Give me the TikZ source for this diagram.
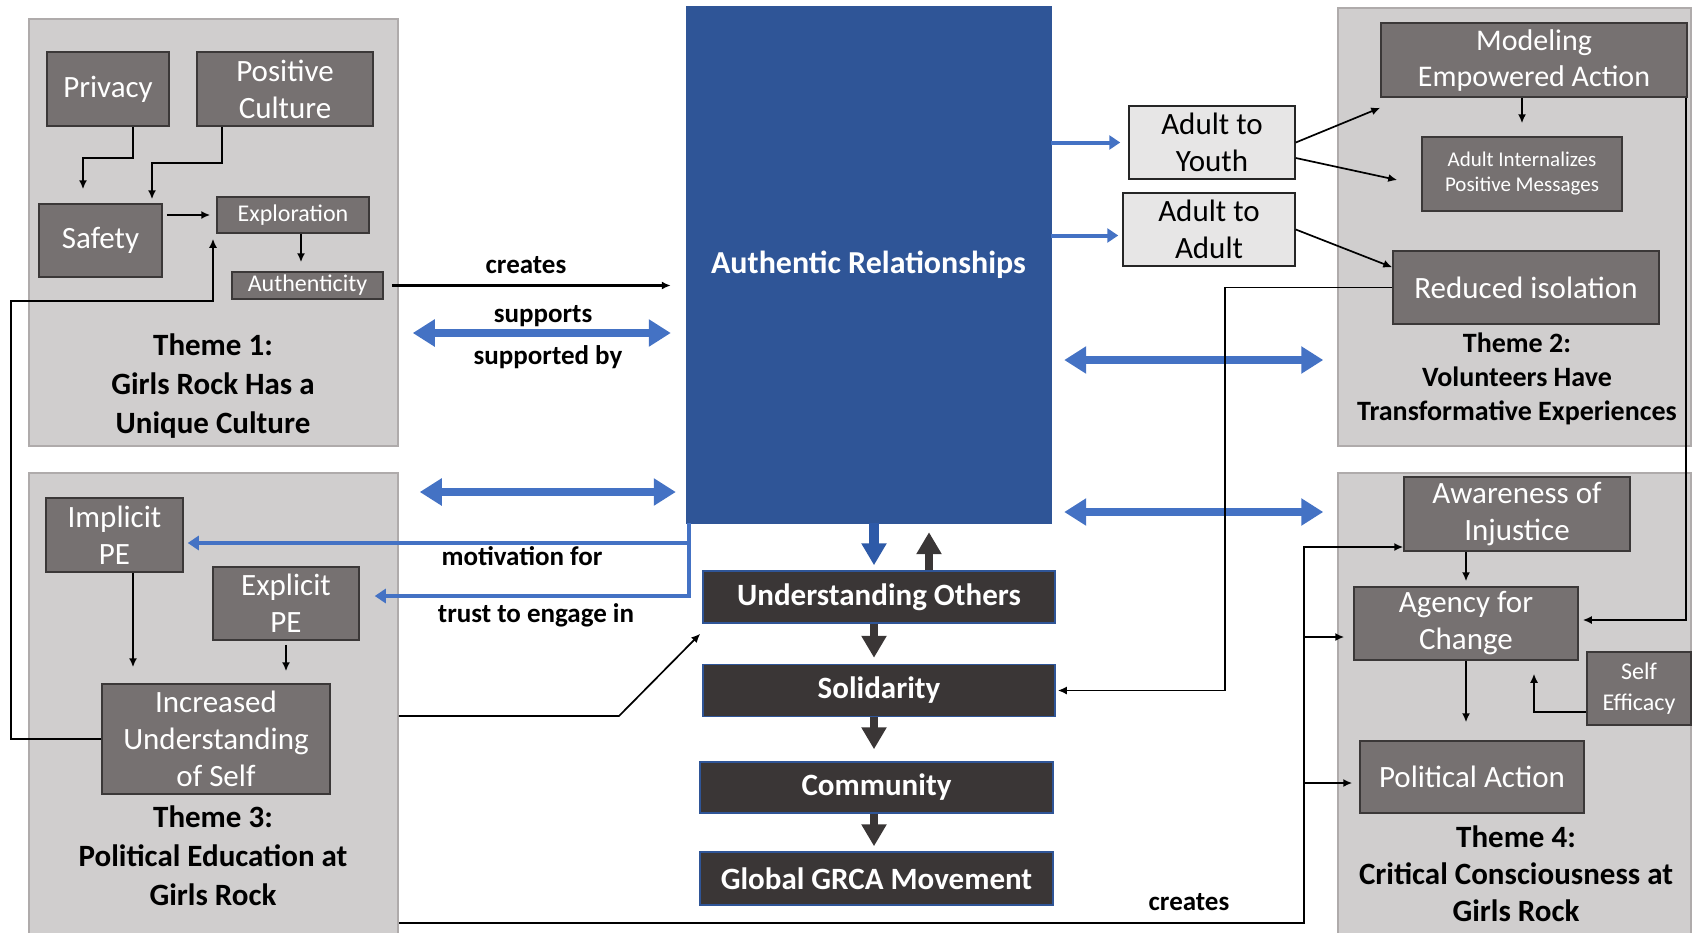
\documentclass[tikz,border=0pt]{standalone}
\usepackage{fontspec}
\setmainfont{Carlito}
\usepackage{tikz}
\usetikzlibrary{arrows.meta}

\definecolor{panelgray}{HTML}{D0CECE}
\definecolor{panelline}{HTML}{AFABAB}
\definecolor{boxgray}{HTML}{767171}
\definecolor{boxline}{HTML}{3B3838}
\definecolor{relblue}{HTML}{2F5597}
\definecolor{downblue}{HTML}{2E5AA8}
\definecolor{chaindark}{HTML}{3A3636}
\definecolor{adultgray}{HTML}{E7E6E6}
\definecolor{arrblue}{HTML}{4472C4}

\begin{document}
\begin{tikzpicture}[x=1pt, y=-1pt,
    panel/.style={draw=panelline, fill=panelgray, line width=1.5pt, inner sep=0pt},
    gbox/.style={draw=boxline, fill=boxgray, line width=1.5pt, text=white, align=center,
        inner sep=0pt, font=\fontsize{31}{37}\selectfont},
    sbox/.style={gbox, font=\fontsize{24}{26}\selectfont},
    chain/.style={draw=relblue, fill=chaindark, line width=1.5pt, text=white, inner sep=0pt,
        font=\bfseries\fontsize{31}{36}\selectfont, minimum width=352pt, minimum height=52pt},
    abox/.style={draw=black!85, fill=adultgray, line width=1.5pt, align=center, inner sep=0pt,
        font=\fontsize{31}{37}\selectfont, minimum height=73pt},
    theme/.style={align=center, font=\bfseries\fontsize{31}{39}\selectfont},
    lbl/.style={font=\bfseries\fontsize{27}{30}\selectfont},
    arr/.style={-{Latex[length=9pt,width=8pt]}, line width=1.7pt},
    bluearr/.style={-{Triangle[length=11pt,width=14pt]}, draw=arrblue, line width=4pt},
    dblarr/.style={{Triangle[length=22pt,width=26pt]}-{Triangle[length=22pt,width=26pt]},
        draw=arrblue, line width=8pt},
    fatarr/.style={-{Triangle[length=22pt,width=24pt]}, line width=8pt}
]
    \useasboundingbox (0,0) rectangle (1692,932);

    % Rows and columns used by the connectors
    \coordinate (supY) at (0,333);
    \coordinate (t3Y) at (0,492);
    \coordinate (t2Y) at (0,360);
    \coordinate (t4Y) at (0,512);
    \coordinate (incY) at (0,716);
    \coordinate (botY) at (0,923);
    \coordinate (bus) at (1304,0);
    \coordinate (chainX) at (874,0);
    \coordinate (upX) at (929,0);

    % Theme panels
    \node[panel, minimum width=369pt, minimum height=427pt] (t1) at (213.5,232.5) {};
    \node[panel, minimum width=369pt, minimum height=472pt] (t3) at (213.5,709) {};
    \node[panel, minimum width=353pt, minimum height=438pt] (t2) at (1514.5,227) {};
    \node[panel, minimum width=353pt, minimum height=472pt] (t4) at (1514.5,709) {};

    % Theme 1
    \node[gbox, minimum width=122pt, minimum height=74pt] (priv) at (108,89) {Privacy};
    \node[gbox, minimum width=176pt, minimum height=74pt] (poscul) at (285,89) {Positive\\Culture};
    \node[gbox, minimum width=123pt, minimum height=73pt] (safety) at (100.5,240.5) {Safety};
    \node[sbox, minimum width=152pt, minimum height=36pt] (explor) at (293,215) {Exploration};
    \node[sbox, minimum width=151pt, minimum height=27pt] (authent) at (307.5,285.5) {Authenticity};
    \node[theme] (t1txt) at (213,386) {Theme 1:\\Girls Rock Has a\\Unique Culture};

    % Theme 3
    \node[gbox, minimum width=137pt, minimum height=74pt] (implicit) at (114.5,535) {Implicit\\PE};
    \node[gbox, minimum width=146pt, minimum height=73pt] (explicit) at (286,603.5) {Explicit\\PE};
    \node[gbox, minimum width=228pt, minimum height=110pt] (incr) at (216,739) {Increased\\Understanding\\of Self};
    \node[theme] (t3txt) at (213,856) {Theme 3:\\Political Education at\\Girls Rock};

    % Centre column
    \node[draw=relblue, fill=relblue, text=white, inner sep=0pt, minimum width=365pt,
        minimum height=517pt, font=\bfseries\fontsize{32}{37}\selectfont] (rel) at (868.5,264.5) {Authentic Relationships};
    \node[chain] (uo) at (879,597) {Understanding Others};
    \node[chain] (sol) at (879,690.5) {Solidarity};
    \node[chain, minimum width=353pt, minimum height=51pt] (comm) at (876.5,787.5) {Community};
    \node[chain, minimum width=353pt, minimum height=53pt] (glob) at (876.5,878.5) {Global GRCA Movement};

    % Adult boxes
    \node[abox, minimum width=166pt] (ay) at (1212,142.5) {Adult to\\Youth};
    \node[abox, minimum width=172pt] (aa) at (1209,229.5) {Adult to\\Adult};

    % Theme 2
    \node[gbox, minimum width=306pt, minimum height=74pt, font=\fontsize{30}{36}\selectfont] (model) at (1534,60) {Modeling\\Empowered Action};
    \node[gbox, minimum width=200pt, minimum height=74pt, font=\fontsize{21}{25}\selectfont] (internal) at (1522,174) {Adult Internalizes\\Positive Messages};
    \node[gbox, minimum width=266pt, minimum height=73pt] (reduced) at (1526,287.5) {Reduced isolation};
    \node[theme, font=\bfseries\fontsize{28}{34}\selectfont] (t2txt) at (1517,379) {Theme 2:\\Volunteers Have\\Transformative Experiences};

    % Theme 4
    \node[gbox, minimum width=226pt, minimum height=74pt] (aware) at (1517,514) {Awareness of\\Injustice};
    \node[gbox, minimum width=224pt, minimum height=73pt] (agency) at (1466,623.5) {Agency for\\Change};
    \node[gbox, minimum width=104pt, minimum height=73pt, font=\fontsize{24}{31}\selectfont] (selfeff) at (1639,688.5) {Self\\Efficacy};
    \node[gbox, minimum width=224pt, minimum height=72pt] (polact) at (1472,777) {Political Action};
    \node[theme, font=\bfseries\fontsize{31}{37}\selectfont] (t4txt) at (1516,874) {Theme 4:\\Critical Consciousness at\\Girls Rock};

    % Arrows inside theme 1
    \draw[arr] ([xshift=25pt]priv.south) |- (83,158) -- ([xshift=-17.5pt,yshift=14pt]safety.north);
    \draw[arr] ([xshift=-63pt]poscul.south) |- (152,163) -- ([xshift=51.5pt,yshift=4pt]safety.north);
    \draw[arr, shorten <=4pt, shorten >=6pt] (safety.east |- explor.west) -- (explor.west);
    \draw[arr, shorten >=9pt] ([xshift=8pt]explor.south) -- ([xshift=8pt]explor.south |- authent.north);

    % Arrows inside theme 3
    \draw[arr, shorten >=16pt] ([xshift=18.5pt]implicit.south) -- ([xshift=18.5pt]implicit.south |- incr.north);
    \draw[arr, shorten <=4pt, shorten >=12pt] (explicit.south) -- (explicit.south |- incr.north);
    \draw[arr] (incr.west) -| (11,301) -| ([xshift=-80pt,yshift=-5pt]explor.south);

    % Theme 1 and Authentic Relationships
    \draw[arr, line width=2.6pt, shorten <=8pt, shorten >=15pt] (authent.east) -- (authent.east -| rel.west);
    \node[lbl] (cr1) at (526,265) {creates};
    \draw[dblarr, shorten <=14pt, shorten >=15pt] (t1.east |- supY) -- (rel.west |- supY);
    \node[lbl] (sup) at (543,316) {supports};
    \node[lbl] (supby) at (548,357) {supported by};

    % Theme 3 and Authentic Relationships
    \draw[dblarr, shorten <=21pt, shorten >=10pt] (t3.east |- t3Y) -- (rel.west |- t3Y);
    \draw[bluearr, shorten >=4pt] ([xshift=3pt]rel.south west) |- ([yshift=-8pt]implicit.east);
    \draw[bluearr, shorten >=15pt] ([xshift=3pt]rel.south west) |- ([yshift=7.5pt]explicit.east);
    \node[lbl] (motiv) at (522,556) {motivation for};
    \node[lbl] (trust) at (536,615) {trust to engage in};
    \draw[arr] (t3.east |- incY) -- (619,716) -- ([xshift=-2pt,yshift=-10pt]uo.south west);

    % Chain under Authentic Relationships
    \draw[fatarr, draw=downblue, line width=10pt, shorten >=5pt] (rel.south -| chainX) -- (uo.north -| chainX);
    \draw[fatarr, draw=chaindark, shorten >=9pt] (uo.north -| upX) -- (rel.south -| upX);
    \draw[fatarr, draw=chaindark, shorten >=6pt] (uo.south -| chainX) -- (sol.north -| chainX);
    \draw[fatarr, draw=chaindark, shorten >=12pt] (sol.south -| chainX) -- (comm.north -| chainX);
    \draw[fatarr, draw=chaindark, shorten >=5pt] (comm.south -| chainX) -- (glob.north -| chainX);

    % Authentic Relationships and adult boxes
    \draw[bluearr, shorten >=8pt] (rel.east |- ay.west) -- (ay.west);
    \draw[bluearr, shorten >=4pt] ([yshift=-6pt]aa.west -| rel.east) -- ([yshift=-6pt]aa.west);
    \draw[dblarr, shorten <=13pt, shorten >=14pt] (rel.east |- t2Y) -- (t2.west |- t2Y);
    \draw[dblarr, shorten <=13pt, shorten >=14pt] (rel.east |- t4Y) -- (t4.west |- t4Y);

    % Theme 2 arrows
    \draw[arr] (ay.east) -- ([yshift=-10pt]model.south west);
    \draw[arr] ([yshift=-15.5pt]ay.east) -- ([xshift=-24pt,yshift=-6pt]internal.west);
    \draw[arr] (aa.east) -- ([yshift=-17pt]reduced.north west);
    \draw[arr, shorten >=13pt] (model.south -| internal.north) -- (internal.north);
    \draw[arr, shorten >=4pt] ([xshift=-2pt]model.south east) |- ([yshift=3.5pt]agency.east);
    \draw[arr, shorten >=2pt] (reduced.west) -| ([xshift=169pt]sol.east) -- (sol.east);

    % Theme 3 creates theme 4
    \draw[arr] (t3.east |- botY) -| ([yshift=-33pt]aware.west -| bus) -- ([yshift=-33pt]aware.west);
    \draw[arr, shorten >=9pt] ([yshift=-13.5pt]agency.west -| bus) -- ([yshift=-13.5pt]agency.west);
    \draw[arr, shorten >=7pt] ([yshift=-6pt]polact.west -| bus) -- ([yshift=-6pt]polact.west);
    \node[lbl] (cr2) at (1189,902) {creates};

    % Theme 4 arrows
    \draw[arr, shorten >=5pt] (aware.south -| agency.north) -- (agency.north);
    \draw[arr, shorten >=18pt] (agency.south) -- (agency.south |- polact.north);
    \draw[arr] ([yshift=-23.5pt]selfeff.west) -| ([xshift=68pt,yshift=-13pt]agency.south);
\end{tikzpicture}
\end{document}
